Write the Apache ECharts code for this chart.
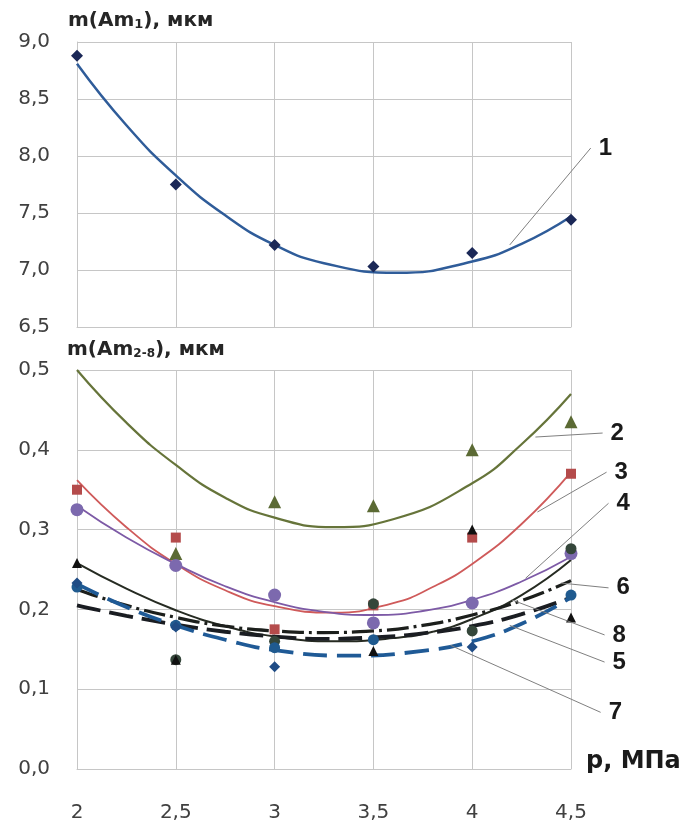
<!DOCTYPE html>
<html>
<head>
<meta charset="utf-8">
<script src="https://cdn.jsdelivr.net/npm/echarts@6/dist/echarts.min.js"></script>
<style>
html,body{margin:0;padding:0;background:#fff;}
#chart{width:685px;height:827px;}
</style>
</head>
<body>
<div id="chart"></div>
<script>
// ---------- data ----------
const pressure = [2, 2.5, 3, 3.5, 4, 4.5];
const xTickLabels = ['2', '2,5', '3', '3,5', '4', '4,5'];

// top panel: m(Am1)
const m1Points = [8.88, 7.75, 7.22, 7.03, 7.15, 7.44];
// trend curve as [p, value]
const m1Trend = [[2, 8.81], [2.25, 8.27], [2.5, 7.83], [2.75, 7.48], [3, 7.22], [3.25, 7.06],
                 [3.62, 6.975], [4, 7.075], [4.25, 7.23], [4.5, 7.47]];

// bottom panel: m(Am2-8) measured points
const pts2 = [null, 0.27, 0.335, 0.33, 0.40, 0.435];   // olive triangles
const pts3 = [0.35, 0.29, 0.175, 0.205, 0.29, 0.37];   // red squares
const pts4 = [0.325, 0.255, 0.218, 0.183, 0.208, 0.27];// purple circles
const pts5 = [0.228, 0.18, 0.152, 0.162, null, 0.218]; // blue circles
const pts6 = [0.258, 0.137, null, 0.148, 0.30, 0.19];  // black triangles
const pts7 = [0.233, 0.178, 0.128, null, 0.153, null]; // blue diamonds
const pts8 = [null, 0.137, 0.16, 0.207, 0.173, 0.276]; // dark circles

// bottom panel: trend curves as [p, value]
const trend2 = [[2, 0.50], [2.25, 0.434], [2.5, 0.381], [2.75, 0.34], [3, 0.315], [3.3, 0.303],
                [3.6, 0.313], [4, 0.358], [4.25, 0.407], [4.5, 0.47]];
const trend3 = [[2, 0.362], [2.25, 0.303], [2.5, 0.257], [2.75, 0.224], [3, 0.204], [3.3, 0.196],
                [3.6, 0.208], [3.8, 0.228], [4, 0.257], [4.25, 0.307], [4.5, 0.372]];
const trend4 = [[2, 0.33], [2.25, 0.29], [2.5, 0.257], [2.75, 0.229], [3, 0.209], [3.25, 0.197],
                [3.5, 0.193], [3.75, 0.198], [4, 0.212], [4.25, 0.235], [4.5, 0.266]];
const trend5 = [[2, 0.205], [2.25, 0.192], [2.5, 0.181], [2.75, 0.172], [3, 0.166], [3.25, 0.163],
                [3.5, 0.165], [3.75, 0.170], [4, 0.179], [4.25, 0.194], [4.5, 0.215]];
const trend6 = [[2, 0.225], [2.25, 0.205], [2.5, 0.19], [2.75, 0.179], [3, 0.173], [3.25, 0.171],
                [3.5, 0.173], [3.75, 0.18], [4, 0.193], [4.25, 0.211], [4.5, 0.236]];
const trend7 = [[2, 0.232], [2.25, 0.203], [2.5, 0.18], [2.75, 0.162], [3, 0.149], [3.37, 0.142],
                [3.75, 0.148], [4, 0.16], [4.25, 0.182], [4.5, 0.215]];
const trend8 = [[2, 0.258], [2.25, 0.226], [2.5, 0.199], [2.75, 0.179], [3, 0.166], [3.3, 0.160],
                [3.6, 0.164], [3.8, 0.172], [4, 0.188], [4.25, 0.218], [4.5, 0.262]];

// annotation labels: [text, grid, anchorOnCurve, labelPos]
const annotations = [
  ['1', 0, [4.19, 7.22], [4.60, 8.07]],
  ['2', 1, [4.32, 0.416], [4.66, 0.421]],
  ['3', 1, [4.33, 0.322], [4.68, 0.372]],
  ['4', 1, [4.27, 0.239], [4.69, 0.333]],
  ['6', 1, [4.45, 0.233], [4.69, 0.227]],
  ['8', 1, [4.20, 0.212], [4.67, 0.168]],
  ['5', 1, [4.19, 0.180], [4.67, 0.134]],
  ['7', 1, [3.89, 0.155], [4.65, 0.071]]
];

// ---------- chart ----------
const pair = (xs, ys) => xs.map((x, i) => [x, ys[i]]);
const GRID = '#c6c6c6';
const FONT = 'DejaVu Sans';

const chart = echarts.init(document.getElementById('chart'), null, {renderer: 'canvas'});

function xAxisCfg(gridIndex, showLabels) {
  return {
    type: 'value', gridIndex: gridIndex, min: 2, max: 4.5, interval: 0.5,
    axisLine: {show: true, lineStyle: {color: GRID}},
    axisTick: {show: false},
    splitLine: {show: true, lineStyle: {color: GRID, width: 1}},
    axisLabel: {
      show: showLabels, margin: 34, fontFamily: FONT, fontSize: 20, color: '#404040',
      formatter: v => xTickLabels[pressure.indexOf(v)] || ''
    }
  };
}
function yAxisCfg(gridIndex, min, max, interval) {
  return {
    type: 'value', gridIndex: gridIndex, min: min, max: max, interval: interval,
    axisLine: {show: true, lineStyle: {color: GRID}},
    axisTick: {show: false},
    splitLine: {show: true, lineStyle: {color: GRID, width: 1}},
    axisLabel: {
      margin: 27, fontFamily: FONT, fontSize: 20, color: '#404040',
      formatter: v => v.toFixed(1).replace('.', ',')
    }
  };
}

function trend(name, data, color, width, type, gi) {
  return {
    name: name, type: 'line', xAxisIndex: gi, yAxisIndex: gi,
    data: data, smooth: 0.5, showSymbol: false, symbol: 'none',
    lineStyle: {color: color, width: width, type: type}, z: 3, silent: true
  };
}
function pts(name, data, symbol, size, color, gi) {
  return {
    name: name, type: 'scatter', xAxisIndex: gi, yAxisIndex: gi,
    data: pair(pressure, data).filter(d => d[1] !== null),
    symbol: symbol, symbolSize: size,
    itemStyle: {color: color, opacity: 1}, z: 4
  };
}

const option = {
  backgroundColor: '#ffffff',
  animation: false,
  grid: [
    {left: 77, right: 114, top: 42, height: 285},
    {left: 77, right: 114, top: 370, height: 399}
  ],
  xAxis: [xAxisCfg(0, false), xAxisCfg(1, true)],
  yAxis: [yAxisCfg(0, 6.5, 9.0, 0.5), yAxisCfg(1, 0, 0.5, 0.1)],
  series: [
    trend('1 trend', m1Trend, '#2f5c99', 2.5, 'solid', 0),
    pts('1', m1Points, 'diamond', 12, '#1b2857', 0),

    trend('2 trend', trend2, '#66743a', 2.2, 'solid', 1),
    trend('3 trend', trend3, '#cf5a5a', 1.8, 'solid', 1),
    trend('4 trend', trend4, '#7d5aa6', 1.8, 'solid', 1),
    trend('8 trend', trend8, '#262b22', 2, 'solid', 1),
    trend('6 trend', trend6, '#1c1f1c', 3.2, [22, 5, 3, 5], 1),
    trend('5 trend', trend5, '#1a1d22', 3.8, [24, 9], 1),
    trend('7 trend', trend7, '#1f5a96', 3.8, [24, 10], 1),

    pts('2', pts2, 'triangle', 13, '#5b6a34', 1),
    pts('3', pts3, 'rect', 10, '#b44b4b', 1),
    pts('4', pts4, 'circle', 13, '#7c69ae', 1),
    pts('8', pts8, 'circle', 11, '#34463a', 1),
    pts('5', pts5, 'circle', 11, '#1f5a8f', 1),
    pts('7', pts7, 'diamond', 11, '#1f4c85', 1),
    pts('6', pts6, 'triangle', 10, '#111111', 1)
  ]
};
chart.setOption(option);

// axis titles and annotation labels (placed through the chart's own coordinate conversion)
const graphics = [];
graphics.push({
  type: 'text', left: 68, top: 11,
  style: {
    text: '{a|m(Am}{b|1}{a|), мкм}',
    rich: {
      a: {fontFamily: FONT, fontWeight: 'bold', fontSize: 20, fill: '#262626'},
      b: {fontFamily: FONT, fontWeight: 'bold', fontSize: 13, fill: '#262626', verticalAlign: 'bottom', padding: [7, 0, 0, 0]}
    }
  }
});
graphics.push({
  type: 'text', left: 67, top: 340,
  style: {
    text: '{a|m(Am}{b|2-8}{a|), мкм}',
    rich: {
      a: {fontFamily: FONT, fontWeight: 'bold', fontSize: 20, fill: '#262626'},
      b: {fontFamily: FONT, fontWeight: 'bold', fontSize: 12, fill: '#262626', verticalAlign: 'bottom', padding: [7, 0, 0, 0]}
    }
  }
});
graphics.push({
  type: 'text', left: 586, top: 750,
  style: {text: 'p, МПа', fontFamily: FONT, fontWeight: 'bold', fontSize: 24, fill: '#1a1a1a'}
});

annotations.forEach(a => {
  const p0 = chart.convertToPixel({gridIndex: a[1]}, a[2]);
  const p1 = chart.convertToPixel({gridIndex: a[1]}, a[3]);
  graphics.push({
    type: 'line', silent: true, z: 10,
    shape: {x1: p0[0], y1: p0[1], x2: p1[0], y2: p1[1]},
    style: {stroke: '#808080', lineWidth: 1}
  });
  graphics.push({
    type: 'text', silent: true, z: 10, x: p1[0] + 8, y: p1[1],
    style: {text: a[0], fontFamily: 'Liberation Sans', fontWeight: 'bold', fontSize: 24,
            fill: '#1a1a1a', verticalAlign: 'middle', align: 'left'}
  });
});
chart.setOption({graphic: graphics});
</script>
</body>
</html>
